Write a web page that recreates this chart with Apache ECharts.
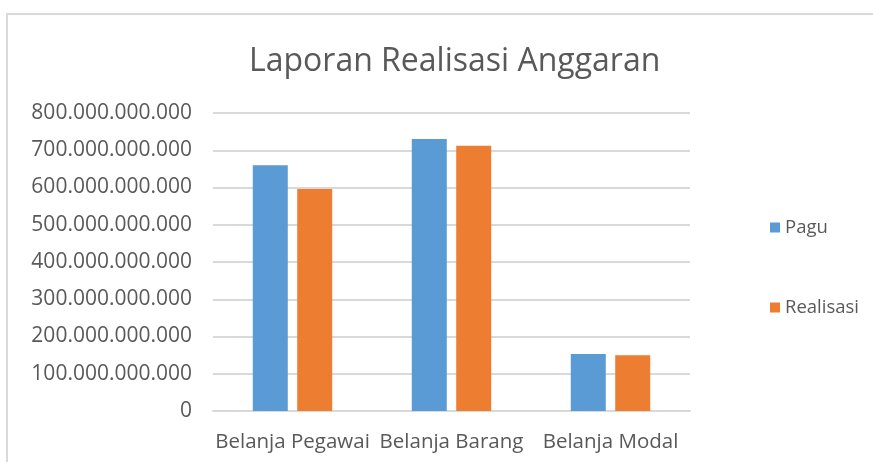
<!DOCTYPE html>
<html>
<head>
<meta charset="utf-8">
<script src="https://cdn.jsdelivr.net/npm/echarts@6/dist/echarts.min.js"></script>
<style>
	html, body { margin: 0; padding: 0; background: #fff; }
	#frame { position: absolute; left: 6px; top: 13px; width: 900px; height: 480px; border: 2px solid #d9d9d9; box-sizing: border-box; }
	#chart { position: absolute; left: 0; top: 0; width: 873px; height: 462px; }
</style>
</head>
<body>
<div id="frame"></div>
<div id="chart"></div>
<script>
// kategori & nilai (rupiah)
var categories = ["Belanja Pegawai", "Belanja Barang", "Belanja Modal"];
var pagu = [660000000000, 730000000000, 153000000000];
var realisasi = [596000000000, 712000000000, 150000000000];
var seriesNames = ["Pagu", "Realisasi"];

// format angka pakai titik ribuan
function fmt(v) {
	return String(v).replace(/\B(?=(\d{3})+(?!\d))/g, ".");
}

var txtColor = "#595959";
var font = "'Open Sans', 'Noto Sans', sans-serif";

var myChart = echarts.init(document.getElementById("chart"));
myChart.setOption({
	animation: false,
	title: {
		text: "Laporan Realisasi Anggaran",
		left: 244,
		top: 41,
		textStyle: { color: txtColor, fontSize: 32, fontWeight: "normal", fontFamily: font }
	},
	legend: {
		orient: "vertical",
		left: 765,
		top: 213,
		itemWidth: 10,
		itemHeight: 10,
		itemGap: 61,
		icon: "rect",
		data: seriesNames,
		textStyle: { color: txtColor, fontSize: 18.5, fontFamily: font }
	},
	grid: { left: 213, right: 183, top: 113, bottom: 51 },
	xAxis: {
		type: "category",
		data: categories,
		axisLine: { lineStyle: { color: "#d9d9d9", width: 2 } },
		axisTick: { show: false },
		axisLabel: { color: txtColor, fontSize: 20.5, fontFamily: font, margin: 21, interval: 0 }
	},
	yAxis: {
		type: "value",
		min: 0,
		max: 800000000000,
		interval: 100000000000,
		axisLine: { show: false },
		axisTick: { show: false },
		splitLine: { lineStyle: { color: "#d9d9d9", width: 2 } },
		axisLabel: { color: txtColor, fontSize: 21, fontFamily: font, margin: 21, formatter: fmt }
	},
	series: [{
		name: seriesNames[0],
		type: "bar",
		data: pagu,
		barWidth: 35,
		barGap: "27%",
		itemStyle: { color: "#5b9bd5" }
	}, {
		name: seriesNames[1],
		type: "bar",
		data: realisasi,
		barWidth: 35,
		itemStyle: { color: "#ed7d31" }
	}]
});
</script>
</body>
</html>
